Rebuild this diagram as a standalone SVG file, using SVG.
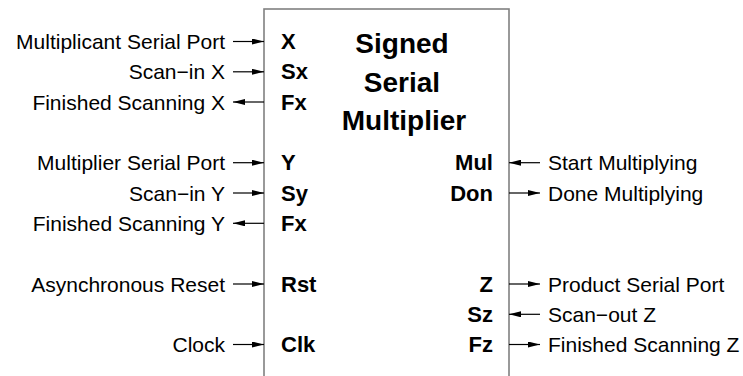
<svg xmlns="http://www.w3.org/2000/svg" width="743" height="376" viewBox="0 0 743 376">
<style>
.lbl{font-family:"Liberation Sans",Arial,sans-serif;font-size:21px;fill:#000}
.port{font-family:"Liberation Sans",Arial,sans-serif;font-size:22px;font-weight:bold;fill:#000}
.title{font-family:"Liberation Sans",Arial,sans-serif;font-size:28px;font-weight:bold;fill:#000}
.w{stroke:#000;stroke-width:1.2;fill:none;marker-end:url(#ah)}
</style>
<defs>
<marker id="ah" markerUnits="userSpaceOnUse" markerWidth="12" markerHeight="6" refX="12" refY="3" orient="auto">
<path d="M0,0 L12,3 L0,6 z" fill="#000"/>
</marker>
</defs>
<rect width="743" height="376" fill="#fff"/>
<g id="multiplier">
<rect x="264" y="9" width="245" height="380" fill="none" stroke="#808080" stroke-width="1.6"/>
<text class="title" x="402" y="53" text-anchor="middle">Signed</text>
<text class="title" x="402" y="92" text-anchor="middle">Serial</text>
<text class="title" x="404" y="130" text-anchor="middle">Multiplier</text>
<text class="port" x="281" y="49">X</text>
<text class="port" x="281" y="79">Sx</text>
<text class="port" x="281" y="110">Fx</text>
<text class="port" x="281" y="170">Y</text>
<text class="port" x="281" y="201">Sy</text>
<text class="port" x="281" y="231">Fx</text>
<text class="port" x="281" y="292">Rst</text>
<text class="port" x="281" y="352">Clk</text>
<text class="port" x="493" y="170" text-anchor="end">Mul</text>
<text class="port" x="493" y="201" text-anchor="end">Don</text>
<text class="port" x="493" y="292" text-anchor="end">Z</text>
<text class="port" x="493" y="322" text-anchor="end">Sz</text>
<text class="port" x="493" y="352" text-anchor="end">Fz</text>
</g>
<g id="labels">
<text class="lbl" x="225" y="49" text-anchor="end">Multiplicant Serial Port</text>
<text class="lbl" x="225" y="79" text-anchor="end">Scan−in X</text>
<text class="lbl" x="225" y="110" text-anchor="end">Finished Scanning X</text>
<text class="lbl" x="225" y="170" text-anchor="end">Multiplier Serial Port</text>
<text class="lbl" x="225" y="201" text-anchor="end">Scan−in Y</text>
<text class="lbl" x="225" y="231" text-anchor="end">Finished Scanning Y</text>
<text class="lbl" x="225" y="292" text-anchor="end">Asynchronous Reset</text>
<text class="lbl" x="225" y="352" text-anchor="end">Clock</text>
<text class="lbl" x="548" y="170">Start Multiplying</text>
<text class="lbl" x="548" y="201">Done Multiplying</text>
<text class="lbl" x="548" y="292">Product Serial Port</text>
<text class="lbl" x="548" y="322">Scan−out Z</text>
<text class="lbl" x="548" y="352">Finished Scanning Z</text>
</g>
<g id="connectors">
<line class="w" x1="233" y1="41.5" x2="264" y2="41.5"/>
<line class="w" x1="233" y1="71.8" x2="264" y2="71.8"/>
<line class="w" x1="264" y1="102" x2="233" y2="102"/>
<line class="w" x1="233" y1="162.7" x2="264" y2="162.7"/>
<line class="w" x1="233" y1="193" x2="264" y2="193"/>
<line class="w" x1="264" y1="223.3" x2="233" y2="223.3"/>
<line class="w" x1="233" y1="284" x2="264" y2="284"/>
<line class="w" x1="233" y1="344.5" x2="264" y2="344.5"/>
<line class="w" x1="540" y1="162.7" x2="509" y2="162.7"/>
<line class="w" x1="509" y1="193" x2="540" y2="193"/>
<line class="w" x1="509" y1="284" x2="540" y2="284"/>
<line class="w" x1="540" y1="314.3" x2="509" y2="314.3"/>
<line class="w" x1="509" y1="344.5" x2="540" y2="344.5"/>
</g>
</svg>
